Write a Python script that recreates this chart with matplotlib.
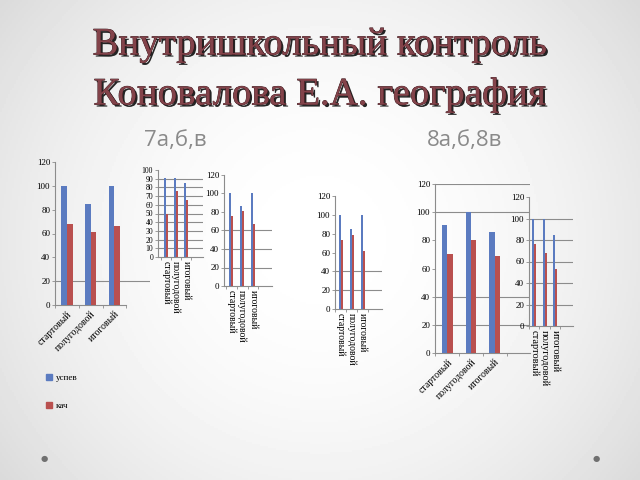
import numpy as np
import matplotlib
matplotlib.use("Agg")
import matplotlib.pyplot as plt
import matplotlib.patheffects as pe
from matplotlib.patches import Patch

W, H = 640, 480

BLUE = '#5b7bc0'
RED = '#b9504f'
GRID = '#8c8c8c'
SERIF = 'Liberation Serif'

categories = ['стартовый', 'полугодовой', 'итоговый']
series_names = ['успев', 'кач']

title_lines = ['Внутришкольный контроль', 'Коновалова Е.А. география']
subtitles = ['7а,б,в', '8а,б,8в']

# 7th grade charts
uspev_1 = [100, 85, 100]
kach_1 = [68, 61, 66]
uspev_2 = [91, 91, 85]
kach_2 = [49, 76, 65]
uspev_3 = [100, 87, 100]
kach_3 = [76, 81, 67]
uspev_4 = [100, 85, 100]
kach_4 = [73, 79, 62]

# 8th grade charts
uspev_5 = [91, 100, 86]
kach_5 = [70, 80, 69]
uspev_6 = [100, 100, 85]
kach_6 = [76, 68, 53]


def px_rect(left, right, top, bottom):
    """Pixel box -> figure fraction rect."""
    return [left / W, 1 - bottom / H, (right - left) / W, (bottom - top) / H]


def draw_chart(fig, box, xlim, ymax, ystep, blue, red, grid, rot,
               width=0.22, yfs=6.5, xfs=7, spine_end=None):
    ax = fig.add_axes(px_rect(*box))
    ax.set_facecolor('none')
    x = np.arange(len(categories))
    ax.bar(x - width / 2, blue, width, color=BLUE, zorder=3)
    ax.bar(x + width / 2, red, width, color=RED, zorder=3)
    ax.set_xlim(*xlim)
    ax.set_ylim(0, ymax)
    for g in grid:
        ax.axhline(g, color=GRID, lw=0.8, zorder=1)

    ax.set_yticks(np.arange(0, ymax + 1, ystep))
    ax.tick_params(axis='y', length=2, width=0.6, color=GRID, pad=1.5,
                   labelsize=yfs)
    for lab in ax.get_yticklabels():
        lab.set_family(SERIF)

    # ticks between categories, labels on categories
    ax.set_xticks(np.arange(-0.5, len(categories) + 0.5, 1.0))
    ax.set_xticklabels([])
    ax.tick_params(axis='x', which='major', length=2.5, width=0.6, color=GRID)
    ax.set_xticks(x, minor=True)
    if rot == 45:
        ax.set_xticklabels(categories, minor=True, rotation=45,
                           ha='right', va='top', rotation_mode='anchor',
                           family=SERIF, fontsize=xfs)
    else:
        ax.set_xticklabels(categories, minor=True, rotation=270,
                           ha='center', va='top', family=SERIF, fontsize=xfs)
    ax.tick_params(axis='x', which='minor', length=0, pad=3)

    for s in ['top', 'right']:
        ax.spines[s].set_visible(False)
    for s in ['left', 'bottom']:
        ax.spines[s].set_color(GRID)
        ax.spines[s].set_linewidth(0.8)
    if spine_end is not None:
        ax.spines['bottom'].set_bounds(xlim[0], spine_end)
    return ax


fig = plt.figure(figsize=(6.4, 4.8), dpi=100)

# slide background: light radial gradient
bg = fig.add_axes([0, 0, 1, 1], zorder=-10)
yy, xx = np.mgrid[-1:1:240j, -1:1:320j]
shade = 1 - 0.09 * (xx ** 2 + 0.6 * yy ** 2)
bg.imshow(shade, cmap='gray', vmin=0, vmax=1, aspect='auto')
bg.axis('off')

# title
title_fx = [pe.SimplePatchShadow(offset=(1.5, -1.5), shadow_rgbFace='black', alpha=0.85),
            pe.Stroke(linewidth=0.5, foreground='#2b0b10'), pe.Normal()]
for txt, ypx in zip(title_lines, [45, 95]):
    fig.text(0.5, 1 - ypx / H, txt, ha='center', va='center', fontsize=28,
             family=SERIF, color='#83434a', path_effects=title_fx)

for txt, xpx in zip(subtitles, [175, 465]):
    fig.text(xpx / W, 1 - 140 / H, txt, ha='center', va='center',
             fontsize=16, family='Open Sans', color='#8a8a8a')

# 7th grade
draw_chart(fig, (55, 150, 162, 305), (-0.5, 3.5), 120, 20, uspev_1, kach_1,
           [20], 45, width=0.24, spine_end=2.5)
draw_chart(fig, (158, 203, 170, 257), (-0.8, 3.7), 100, 10, uspev_2, kach_2,
           list(range(10, 100, 10)), 270, width=0.24, yfs=5.5)
draw_chart(fig, (224, 272, 175, 286), (-0.64, 3.73), 120, 20, uspev_3, kach_3,
           [20, 40, 60], 270, width=0.2, xfs=7)
draw_chart(fig, (335, 382, 196, 309), (-0.52, 3.75), 120, 20, uspev_4, kach_4,
           [20, 40], 270, width=0.2, xfs=7)

# 8th grade
draw_chart(fig, (435, 530, 184, 353), (-0.52, 3.49), 120, 20, uspev_5, kach_5,
           [20, 40, 100, 120], 45, width=0.22)
draw_chart(fig, (529, 573, 197, 326), (-0.37, 3.7), 120, 20, uspev_6, kach_6,
           [20, 40, 60, 80, 100], 270, width=0.2, xfs=7.5)

# legend of the first chart
handles = [Patch(color=BLUE), Patch(color=RED)]
fig.legend(handles, series_names, loc='upper left',
           bbox_to_anchor=(38 / W, 1 - 366 / H), frameon=False,
           labelspacing=2.2, handlelength=0.6, handleheight=0.6,
           handletextpad=0.5, prop={'family': SERIF, 'size': 6.5})

# slide decoration dots
for xpx in [44, 596]:
    fig.text(xpx / W, 1 - 458 / H, '●', ha='center', va='center',
             fontsize=6, color='#707070')

fig.savefig('out.png', dpi=100)
